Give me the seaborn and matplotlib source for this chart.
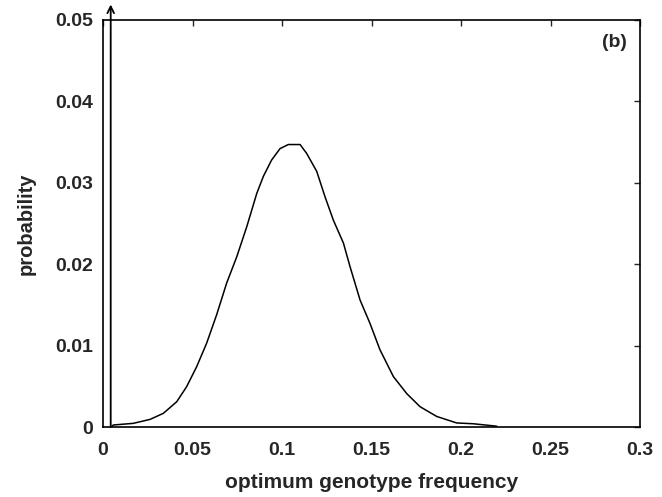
import matplotlib
matplotlib.use("Agg")
import matplotlib.pyplot as plt
import seaborn as sns
import pandas as pd

# values
freq = [0.0045, 0.0058, 0.0169, 0.0263, 0.0337, 0.0412, 0.0467, 0.0523, 0.0579,
        0.0635, 0.0691, 0.0747, 0.0803, 0.0859, 0.0896, 0.0942, 0.0989, 0.1035,
        0.1101, 0.1138, 0.1194, 0.1240, 0.1287, 0.1343, 0.1380, 0.1436, 0.1492,
        0.1547, 0.1622, 0.1697, 0.1771, 0.1864, 0.1976, 0.2069, 0.2200]
prob = [0.0, 0.00025, 0.00045, 0.00094, 0.00168, 0.00311, 0.00495, 0.0074, 0.0103,
        0.0138, 0.0177, 0.0209, 0.0246, 0.0287, 0.0308, 0.0328, 0.0342, 0.0347,
        0.0347, 0.0336, 0.0314, 0.0283, 0.0254, 0.0226, 0.0197, 0.0156, 0.0127,
        0.0095, 0.0062, 0.0041, 0.0025, 0.0013, 0.0005, 0.0004, 0.0001]
spike_x = 0.0043
spike_top = 0.0519

xticks = [0, 0.05, 0.1, 0.15, 0.2, 0.25, 0.3]
xtick_labels = ["0", "0.05", "0.1", "0.15", "0.2", "0.25", "0.3"]
yticks = [0, 0.01, 0.02, 0.03, 0.04, 0.05]
ytick_labels = ["0", "0.01", "0.02", "0.03", "0.04", "0.05"]

sns.set_style("white")
plt.rcParams["font.family"] = ["Liberation Sans", "DejaVu Sans"]

fig = plt.figure(figsize=(6.62, 4.97), dpi=100)
ax = fig.add_axes([0.1556, 0.1408, 0.8112, 0.819])

df = pd.DataFrame({"freq": freq, "prob": prob})
sns.lineplot(data=df, x="freq", y="prob", ax=ax, color="black", linewidth=1.1,
             sort=False)

# delta spike near zero, drawn as an arrow past the top
ax.annotate("", xy=(spike_x, spike_top), xytext=(spike_x, 0),
            arrowprops=dict(arrowstyle="->", color="black", lw=1.3,
                            shrinkA=0, shrinkB=0, mutation_scale=12),
            annotation_clip=False)

ax.set_xlim(0, 0.3)
ax.set_ylim(0, 0.05)
ax.set_xticks(xticks)
ax.set_xticklabels(xtick_labels)
ax.set_yticks(yticks)
ax.set_yticklabels(ytick_labels)
ax.tick_params(direction="in", length=4, width=1, top=True, right=True,
               labelsize=14, pad=7)
ax.tick_params(axis="x", pad=11)
for lab in ax.get_xticklabels() + ax.get_yticklabels():
    lab.set_fontweight("bold")
for sp in ax.spines.values():
    sp.set_color("black")
    sp.set_linewidth(1.2)

ax.set_xlabel("optimum genotype frequency", fontsize=15, fontweight="bold",
              labelpad=10)
ax.set_ylabel("probability", fontsize=14.5, fontweight="bold", labelpad=14)
ax.text(0.975, 0.965, "(b)", transform=ax.transAxes, ha="right", va="top",
        fontsize=14, fontweight="bold")

fig.savefig("out.png", dpi=100)
